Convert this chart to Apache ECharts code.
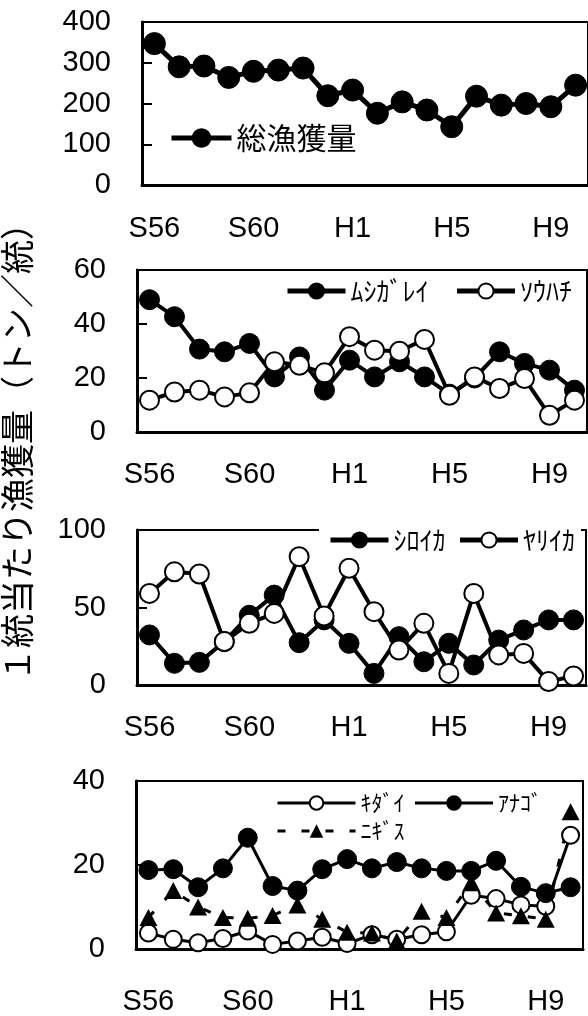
<!DOCTYPE html>
<html>
<head>
<meta charset="utf-8">
<script src="https://cdn.jsdelivr.net/npm/echarts@6/dist/echarts.min.js"></script>
<style>
  html, body { margin: 0; padding: 0; background: #fff; }
  #chart { width: 588px; height: 1016px; }
</style>
</head>
<body>
<div id="chart"></div>
<script>
// 年度 (S56〜H10)
const years = ['S56', 'S57', 'S58', 'S59', 'S60', 'S61', 'S62', 'S63',
  'H1', 'H2', 'H3', 'H4', 'H5', 'H6', 'H7', 'H8', 'H9', 'H10'];

// 1統当たり漁獲量 (トン/統)
const totalCatch = [347, 290, 292, 264, 279, 282, 287, 219, 233, 176, 204, 184, 143, 218, 196, 200, 192, 245];
const mushigarei = [49, 42.7, 30.7, 29.7, 32.8, 20.4, 27.8, 15.5, 26.6, 20.4, 26, 20.4, 14, 20, 29.7, 25.4, 22.9, 15.5];
const souhachi = [11.8, 14.8, 15.5, 13, 14.5, 26, 24.7, 21.9, 35.3, 30.3, 29.9, 34.3, 13.6, 20.4, 16.1, 19.8, 6.2, 11.8];
const shiroika = [32.3, 14, 14.6, 28, 45, 58, 27.3, 42, 26.9, 7.5, 31.2, 15, 26.9, 12.9, 29, 35.5, 42, 42];
const yariika = [59.1, 73, 71.6, 28, 39.8, 46.2, 82.8, 44.5, 75.3, 47.3, 22.6, 39.8, 7.5, 59.1, 19.4, 20.4, 2.2, 5.8];
const kidai = [3.8, 2.3, 1.5, 2.5, 4.3, 1.1, 1.9, 2.8, 1.3, 3.4, 2.3, 3.4, 4.1, 12.8, 12, 10.5, 10.2, 27.1];
const anago = [18.8, 19, 14.7, 19.2, 26.5, 15, 13.9, 19, 21.4, 19.2, 20.7, 19.2, 18.6, 18.6, 21, 14.8, 13.3, 14.7];
const nigisu = [7.5, 13.9, 10, 7.5, 7.3, 8, 10.5, 7.1, 4, 3.8, 1.9, 9, 7.5, 15.8, 8.6, 7.9, 7.1, 32.7];

// 縦軸の目盛
const yMax = [400, 60, 100, 40];
const yStep = [100, 20, 50, 20];

const NUM_FONT = "'Liberation Sans', Arial, sans-serif";
const JP_FONT = "'Noto Sans CJK JP', sans-serif";

// グラフ枠の位置
const grids = [
  { left: 142, top: 22, width: 450, height: 163 },
  { left: 137, top: 270, width: 450, height: 162 },
  { left: 137, top: 530, width: 449, height: 155 },
  { left: 136, top: 781, width: 447, height: 177 }
];
const labelMargin = [29, 28, 28, 38];

function xAxisFor(i) {
  return {
    type: 'category',
    gridIndex: i,
    data: years,
    boundaryGap: true,
    axisLine: { lineStyle: { color: '#000', width: 3 } },
    axisTick: { inside: true, length: 10, interval: 0, lineStyle: { color: '#000', width: 2 } },
    axisLabel: { interval: 3, margin: labelMargin[i], color: '#000', fontFamily: NUM_FONT, fontSize: 29 },
    splitLine: { show: false }
  };
}

function yAxisFor(i) {
  return {
    type: 'value',
    gridIndex: i,
    min: 0,
    max: yMax[i],
    interval: yStep[i],
    axisLine: { show: true, lineStyle: { color: '#000', width: 3 } },
    axisTick: { show: true, inside: true, length: 10, lineStyle: { color: '#000', width: 2 } },
    axisLabel: { margin: 31, color: '#000', fontFamily: NUM_FONT, fontSize: 29 },
    splitLine: { show: false }
  };
}

// 折れ線 (filled: 黒丸, false: 白丸)
function lineSeries(name, data, i, filled, size, width) {
  return {
    name: name,
    type: 'line',
    xAxisIndex: i,
    yAxisIndex: i,
    data: data,
    symbol: 'circle',
    symbolSize: size,
    showAllSymbol: true,
    lineStyle: { color: '#000', width: width },
    itemStyle: filled
      ? { color: '#000', borderColor: '#000', borderWidth: 1 }
      : { color: '#fff', borderColor: '#000', borderWidth: 2 }
  };
}

function legendFor(names, left, top, itemWidth, itemHeight, itemGap, fontSize, lineWidth, extra) {
  return Object.assign({
    data: names,
    left: left,
    top: top,
    orient: 'horizontal',
    padding: 0,
    itemWidth: itemWidth,
    itemHeight: itemHeight,
    itemGap: itemGap,
    selectedMode: false,
    lineStyle: { width: lineWidth },
    textStyle: { color: '#000', fontFamily: JP_FONT, fontSize: fontSize }
  }, extra || {});
}

const chart = echarts.init(document.getElementById('chart'));

chart.setOption({
  animation: false,
  backgroundColor: '#fff',
  grid: grids.map(g => Object.assign({ show: true, borderColor: '#000', borderWidth: 2, containLabel: false }, g)),
  xAxis: [0, 1, 2, 3].map(xAxisFor),
  yAxis: [0, 1, 2, 3].map(yAxisFor),
  legend: [
    legendFor(['総漁獲量'], 169, 123, 60, 22, 10, 30, 5),
    legendFor(['ﾑｼｶﾞﾚｲ', 'ｿｳﾊﾁ'], 285, 278, 58, 19, 26, 26, 5),
    legendFor(['ｼﾛｲｶ', 'ﾔﾘｲｶ'], 319, 522, 58, 19, 12, 26, 5,
      { padding: [5, 6, 5, 9], backgroundColor: '#fff' }),
    legendFor(['ｷﾀﾞｲ', 'ｱﾅｺﾞ'], 276, 792, 78, 17, 9, 22, 3),
    legendFor(['ﾆｷﾞｽ'], 276, 820, 78, 17, 9, 22, 3)
  ],
  graphic: [{
    type: 'text',
    x: 17,
    y: 444,
    rotation: Math.PI / 2,
    style: {
      text: '１統当たり漁獲量（トン／統）',
      fontFamily: JP_FONT,
      fontSize: 34,
      fill: '#000',
      align: 'center',
      verticalAlign: 'middle'
    }
  }],
  series: [
    lineSeries('総漁獲量', totalCatch, 0, true, 22, 5),
    lineSeries('ﾑｼｶﾞﾚｲ', mushigarei, 1, true, 20, 4),
    lineSeries('ｿｳﾊﾁ', souhachi, 1, false, 19, 4),
    lineSeries('ｼﾛｲｶ', shiroika, 2, true, 20, 4),
    lineSeries('ﾔﾘｲｶ', yariika, 2, false, 19, 4),
    lineSeries('ｷﾀﾞｲ', kidai, 3, false, 17, 3),
    lineSeries('ｱﾅｺﾞ', anago, 3, true, 19, 3),
    {
      name: 'ﾆｷﾞｽ',
      type: 'line',
      xAxisIndex: 3,
      yAxisIndex: 3,
      data: nigisu,
      symbol: 'triangle',
      symbolSize: [18, 17],
      showAllSymbol: true,
      lineStyle: { color: '#000', width: 3, type: [8, 16] },
      itemStyle: { color: '#000' }
    }
  ]
});
</script>
</body>
</html>
